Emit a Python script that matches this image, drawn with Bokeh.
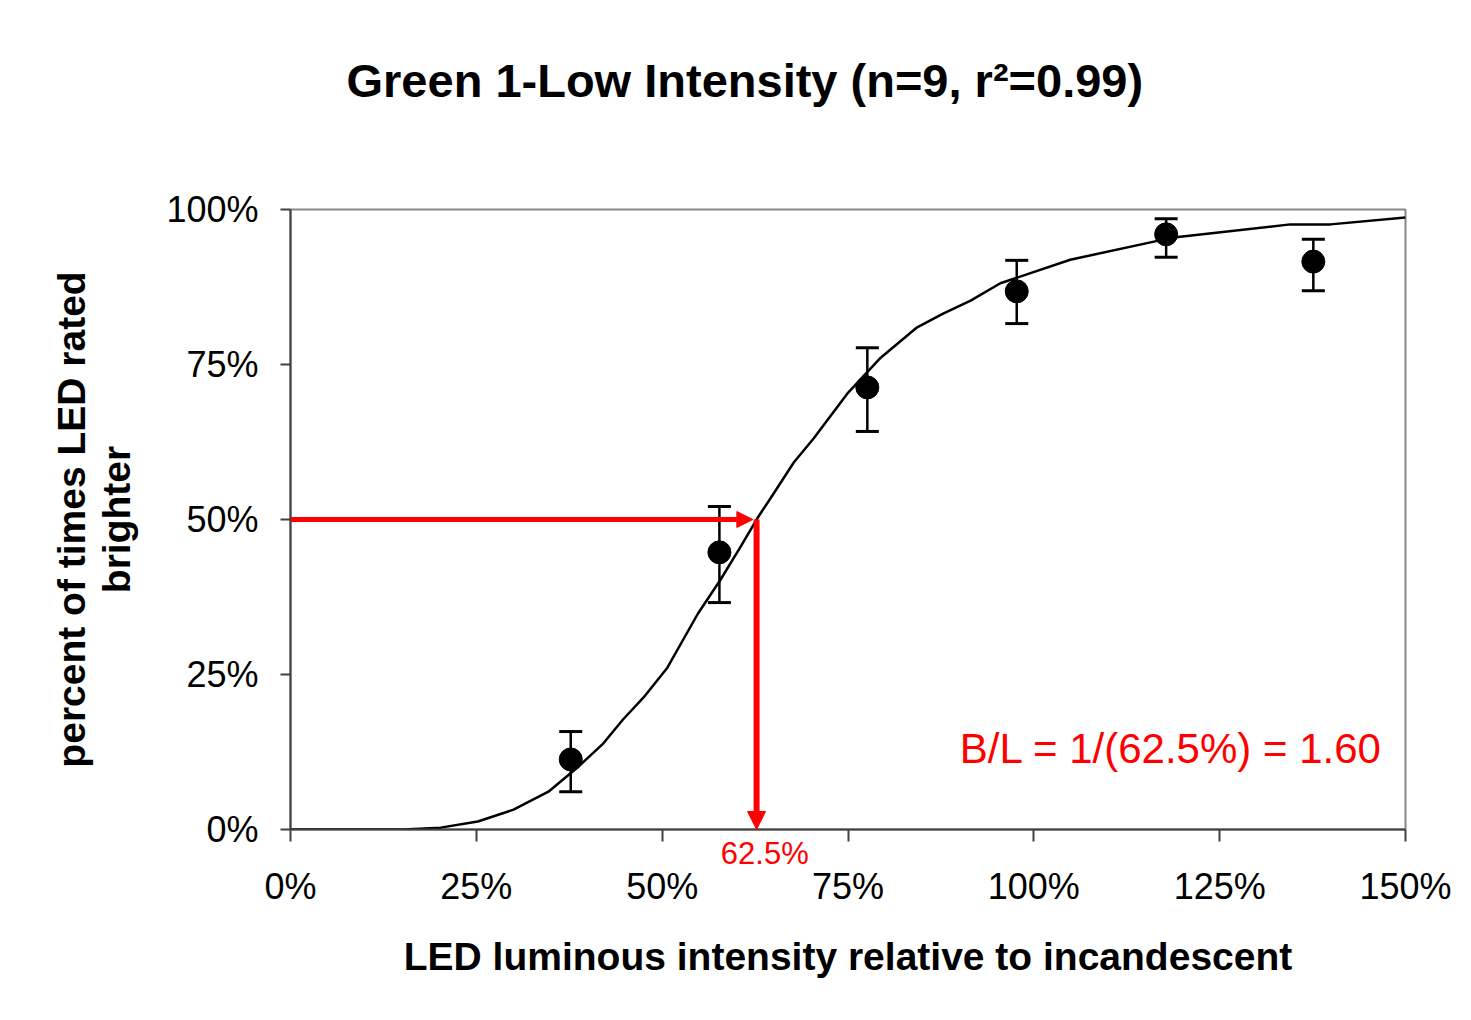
from bokeh.plotting import figure
from bokeh.models import (Range1d, FixedTicker, PrintfTickFormatter, Whisker, TeeHead,
                          ColumnDataSource, Label, Arrow, NormalHead, Title, LinearAxis)
from bokeh.embed import file_html
from bokeh.resources import INLINE

# ---- data (percent units) ----
obs_x = [37.7, 57.7, 77.6, 97.7, 117.8, 137.6]
obs_y = [11.3, 44.7, 71.3, 86.8, 96.0, 91.6]
err_hi = [15.8, 52.1, 77.7, 91.8, 98.5, 95.2]
err_lo = [6.1, 36.6, 64.2, 81.6, 92.3, 86.9]

fit_x = [0, 15.2, 20.2, 25.2, 30.0, 34.7, 38.6, 42.1, 44.7, 47.5, 50.7, 54.8, 57.8,
         60.5, 62.8, 65.0, 67.7, 70.4, 74.9, 79.4, 84.3, 87.8, 91.5, 95.5, 104.9,
         118.8, 134.5, 139.9, 150.0]
fit_y = [0, 0, 0.3, 1.3, 3.2, 6.1, 10.0, 13.9, 17.7, 21.3, 26.1, 34.8, 40.2,
         45.5, 50.2, 54.2, 59.2, 63.1, 70.3, 76.1, 81.0, 83.2, 85.3, 88.1, 91.9,
         95.5, 97.6, 97.6, 98.7]

x_ticks = [0, 25, 50, 75, 100, 125, 150]
y_ticks = [0, 25, 50, 75, 100]
threshold = 62.5
criterion = 50
threshold_label_pos = 63.8

FONT = "Liberation Sans"
W, H = 1468, 1016

p = figure(width=W, height=H, output_backend="svg", toolbar_location=None,
           x_range=Range1d(0, 150), y_range=Range1d(0, 100), x_axis_location=None,
           min_border_left=290, min_border_right=W - 1405, min_border_top=209,
           min_border_bottom=H - 829)

p.title = Title(text="Green 1-Low Intensity (n=9, r\u00b2=0.99)", align="left",
                text_font=FONT, text_font_size="47px", text_font_style="bold",
                text_color="black", offset=56, standoff=0)
# empty spacer between title and plot area
p.add_layout(Title(text=" ", text_font_size="10px", standoff=90), "above")

p.xgrid.visible = False
p.ygrid.visible = False
p.outline_line_color = "#888888"
p.outline_line_width = 2
p.background_fill_color = "white"
p.border_fill_color = "white"

# axis A: axis line, tick marks (as minor ticks) and the red threshold label
axis_a = LinearAxis(ticker=FixedTicker(ticks=[threshold_label_pos], minor_ticks=x_ticks),
                    major_label_overrides={threshold_label_pos: "62.5%"},
                    axis_line_color="#404040", axis_line_width=2,
                    major_tick_line_color=None, major_tick_out=0, major_tick_in=0,
                    minor_tick_line_color="#404040", minor_tick_line_width=2,
                    minor_tick_out=12, minor_tick_in=0,
                    major_label_standoff=-6, major_label_text_color="red",
                    major_label_text_font=FONT, major_label_text_font_size="31px")
p.add_layout(axis_a, "below")

# axis B: black tick labels and axis title
axis_b = LinearAxis(ticker=FixedTicker(ticks=x_ticks),
                    formatter=PrintfTickFormatter(format="%d%%"),
                    axis_line_color=None, major_tick_line_color=None,
                    minor_tick_line_color=None, major_tick_out=0, major_tick_in=0,
                    major_label_standoff=-8, major_label_text_color="black",
                    major_label_text_font=FONT, major_label_text_font_size="36px",
                    axis_label="LED luminous intensity relative to incandescent",
                    axis_label_text_font=FONT, axis_label_text_font_size="39px",
                    axis_label_text_font_style="bold", axis_label_text_color="black",
                    axis_label_standoff=25)
p.add_layout(axis_b, "below")

ay = p.yaxis[0]
ay.ticker = FixedTicker(ticks=y_ticks)
ay.formatter = PrintfTickFormatter(format="%d%%")
ay.axis_line_color = "#404040"
ay.axis_line_width = 2
ay.major_tick_line_color = "#404040"
ay.major_tick_line_width = 2
ay.minor_tick_line_color = None
ay.major_tick_in = 0
ay.major_tick_out = 10
ay.major_label_standoff = 22
ay.major_label_text_font = FONT
ay.major_label_text_font_size = "36px"
ay.major_label_text_color = "black"
ay.axis_label = "percent of times LED rated\nbrighter"
ay.axis_label_text_font = FONT
ay.axis_label_text_font_size = "39px"
ay.axis_label_text_font_style = "bold"
ay.axis_label_text_color = "black"
ay.axis_label_text_line_height = 1.05
ay.axis_label_standoff = 25

# fitted curve
p.line(fit_x, fit_y, line_color="black", line_width=2.5)

# error bars
src = ColumnDataSource(dict(x=obs_x, y=obs_y, hi=err_hi, lo=err_lo))
w = Whisker(source=src, base="x", upper="hi", lower="lo", line_color="black",
            line_width=2.5,
            upper_head=TeeHead(size=23, line_color="black", line_width=3),
            lower_head=TeeHead(size=23, line_color="black", line_width=3))
p.add_layout(w)

p.scatter("x", "y", source=src, size=23, fill_color="black", line_color="black")

# red arrows
p.add_layout(Arrow(x_start=0, y_start=criterion, x_end=threshold - 0.3, y_end=criterion,
                   line_color="red", line_width=5,
                   end=NormalHead(size=16, fill_color="red", line_color="red")))
p.add_layout(Arrow(x_start=threshold + 0.2, y_start=criterion, x_end=threshold + 0.2, y_end=0,
                   line_color="red", line_width=6,
                   end=NormalHead(size=18, fill_color="red", line_color="red")))

p.add_layout(Label(x=146.9, y=13.1, text="B/L = 1/(62.5%) = 1.60", text_align="right",
                   text_baseline="middle", text_font=FONT, text_font_size="42px",
                   text_color="red"))

open("out.html", "w").write(file_html(p, INLINE))
